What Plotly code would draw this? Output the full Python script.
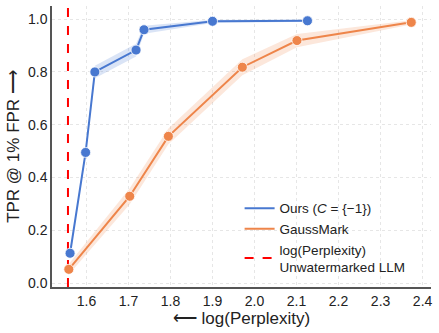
import plotly.graph_objects as go

ours_x = [1.561, 1.598, 1.620, 1.718, 1.737, 1.900, 2.126]
ours_y = [0.113, 0.495, 0.800, 0.883, 0.960, 0.992, 0.994]
ours_err = [0.010, 0.012, 0.024, 0.024, 0.015, 0.006, 0.004]

gauss_x = [1.558, 1.703, 1.795, 1.971, 2.101, 2.373]
gauss_y = [0.052, 0.329, 0.556, 0.818, 0.919, 0.988]
gauss_err = [0.020, 0.030, 0.030, 0.030, 0.025, 0.008]

baseline_logppl = 1.556

x_ticks = [1.6, 1.7, 1.8, 1.9, 2.0, 2.1, 2.2, 2.3, 2.4]
y_ticks = [0.0, 0.2, 0.4, 0.6, 0.8, 1.0]
x_range = [1.518, 2.42]
y_range = [-0.015, 1.05]

BLUE = "#4878d0"
ORANGE = "#ee854a"


def band(xs, ys, err, color):
    upper = [y + e for y, e in zip(ys, err)]
    lower = [y - e for y, e in zip(ys, err)]
    return go.Scatter(
        x=xs + xs[::-1], y=upper + lower[::-1], mode="lines", fill="toself",
        fillcolor=color, line=dict(width=0), hoverinfo="skip", showlegend=False,
    )


def series(xs, ys, color, name):
    # line carries the legend entry (no marker in legend), markers drawn separately
    line = go.Scatter(x=xs, y=ys, mode="lines", name=name,
                      line=dict(color=color, width=2))
    dots = go.Scatter(x=xs, y=ys, mode="markers", showlegend=False,
                      marker=dict(size=10, color=color, line=dict(color="white", width=0.8)))
    return line, dots


fig = go.Figure()
fig.add_trace(band(ours_x, ours_y, ours_err, "rgba(72,120,208,0.2)"))
fig.add_trace(band(gauss_x, gauss_y, gauss_err, "rgba(238,133,74,0.2)"))

ours_line, ours_dots = series(ours_x, ours_y, BLUE, "Ours (<i>C</i> = {−1})")
gauss_line, gauss_dots = series(gauss_x, gauss_y, ORANGE, "GaussMark")
fig.add_trace(ours_line)
fig.add_trace(gauss_line)
fig.add_trace(go.Scatter(
    x=[baseline_logppl, baseline_logppl], y=y_range, mode="lines",
    name="log(Perplexity)<br>Unwatermarked LLM",
    line=dict(color="#ff0000", width=2, dash="dash"),
))
fig.add_trace(ours_dots)
fig.add_trace(gauss_dots)

axis_common = dict(
    showgrid=True, gridcolor="#e6e6e6", griddash="dot", gridwidth=1,
    showline=True, linecolor="#555555", linewidth=1.5,
    ticks="", zeroline=False, automargin=False,
    tickfont=dict(size=14, color="#222222"),
)

fig.update_xaxes(
    range=x_range, tickvals=x_ticks, ticktext=[f"{v:.1f}" for v in x_ticks],
    title=dict(text="⟵ log(Perplexity)", font=dict(size=17, color="#222222"), standoff=2),
    **axis_common,
)
fig.update_yaxes(
    range=y_range, tickvals=y_ticks, ticktext=[f"{v:.1f}" for v in y_ticks],
    title=dict(text="TPR @ 1% FPR ⟶", font=dict(size=17, color="#222222"), standoff=4),
    **axis_common,
)

fig.update_layout(
    width=439, height=333,
    margin=dict(l=52, r=8, t=6, b=46),
    plot_bgcolor="white", paper_bgcolor="white",
    font=dict(family="Liberation Sans, Arial, sans-serif", color="#222222"),
    legend=dict(
        x=0.495, y=0.335, xanchor="left", yanchor="top",
        bgcolor="rgba(255,255,255,0)", font=dict(size=13.5),
        itemwidth=30, tracegroupgap=2,
    ),
)

# drop the browser's default 8px body margin so the figure sits at the page corner
fig.write_html("out.html", config={"displayModeBar": False},
               post_script="document.body.style.margin='0';")
